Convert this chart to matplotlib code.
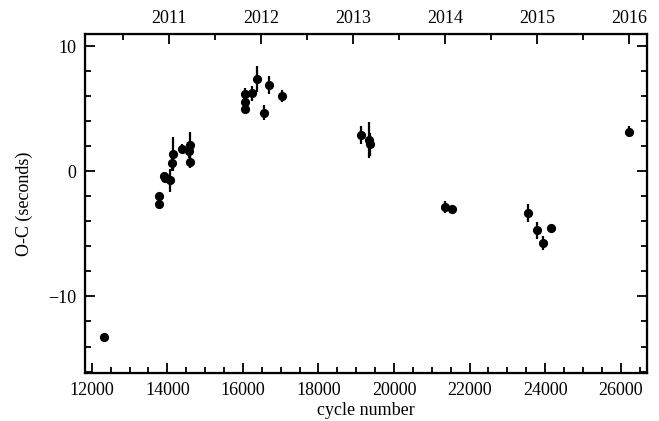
import matplotlib
matplotlib.use("Agg")
import matplotlib.pyplot as plt
from matplotlib.ticker import MultipleLocator, FixedLocator

plt.rcParams['font.family'] = ['Liberation Serif', 'DejaVu Serif']
plt.rcParams['mathtext.fontset'] = 'stix'

cycles = [12333, 13781, 13781, 13900, 13950, 14072, 14125, 14161, 14398,
          14570, 14601, 14610, 16057, 16057, 16065, 16250, 16382, 16560,
          16683, 17028, 19134, 19330, 19370, 21360, 21534, 23554, 23792,
          23951, 24154, 26226]
oc = [-13.24, -1.95, -2.65, -0.35, -0.55, -0.73, 0.65, 1.39, 1.79,
      1.66, 2.11, 0.73, 6.15, 5.56, 4.98, 6.23, 7.37, 4.69,
      6.89, 6.02, 2.91, 2.5, 2.15, -2.85, -2.99, -3.33, -4.72,
      -5.72, -4.5, 3.17]
err = [0.2, 0.2, 0.2, 0.25, 0.25, 0.9, 0.6, 1.35, 0.35,
       0.6, 1.05, 0.5, 0.5, 0.3, 0.3, 0.62, 1.07, 0.6,
       0.75, 0.45, 0.72, 1.45, 0.9, 0.45, 0.2, 0.72, 0.66,
       0.58, 0.2, 0.45]

years = [2011, 2012, 2013, 2014, 2015, 2016]
year_ref = 2013.5
cycle_ref = 20138
cycles_per_year = 2435

def year_to_cycle(y):
    return cycle_ref + cycles_per_year * (y - year_ref)

fig = plt.figure(figsize=(6.59, 4.21), dpi=100)
ax = fig.add_axes([0.129, 0.113, 0.853, 0.806])
ax.errorbar(cycles, oc, yerr=err, fmt='o', color='black', ms=5.6,
            elinewidth=1.6, capsize=0, ecolor='black')

ax.set_xlim(11820, 26700)
ax.set_ylim(-16.15, 10.96)
ax.xaxis.set_major_locator(MultipleLocator(2000))
ax.xaxis.set_minor_locator(MultipleLocator(500))
ax.yaxis.set_major_locator(MultipleLocator(10))
ax.yaxis.set_minor_locator(MultipleLocator(2))
ax.tick_params(which='both', direction='in', top=False, right=True,
               labelsize=13, width=1.3)
ax.tick_params(which='major', length=7, pad=6)
ax.tick_params(which='minor', length=4)
for s in ax.spines.values():
    s.set_linewidth(1.6)
ax.set_xlabel('cycle number', fontsize=13, labelpad=2)
ax.set_ylabel('O-C (seconds)', fontsize=13, labelpad=11)

ax2 = ax.twiny()
ax2.set_xlim(ax.get_xlim())
ax2.xaxis.set_major_locator(FixedLocator([year_to_cycle(y) for y in years]))
ax2.xaxis.set_minor_locator(FixedLocator([year_to_cycle(y - 0.5) for y in years]))
ax2.set_xticklabels([str(y) for y in years])
ax2.tick_params(which='both', direction='in', labelsize=13, width=1.3)
ax2.tick_params(which='major', length=7, pad=5)
ax2.tick_params(which='minor', length=4)

fig.savefig('out.png', dpi=100)
